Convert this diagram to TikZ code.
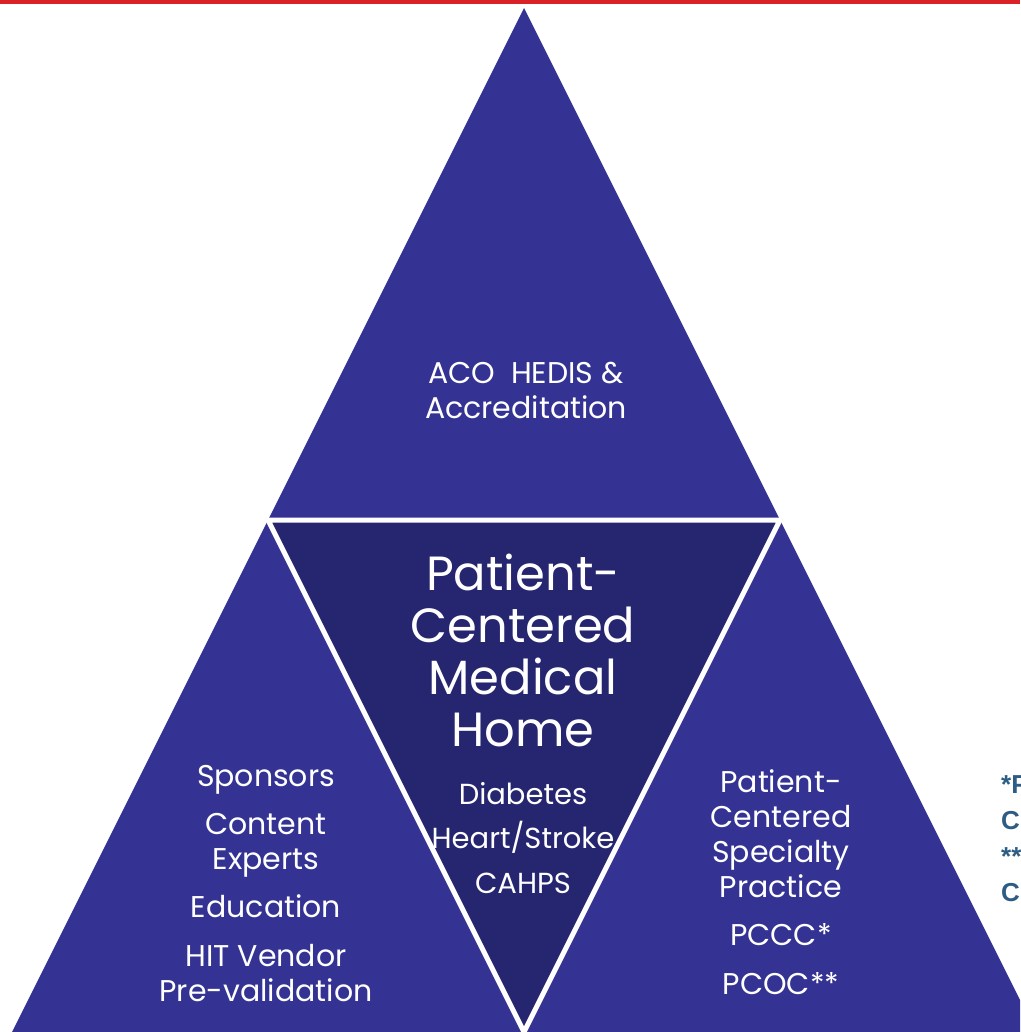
\documentclass[tikz,border=0pt]{standalone}
\usepackage{fontspec}
\setmainfont{Poppins}
\newfontfamily\notefont{Liberation Sans}
\usepackage{tikz}
\usetikzlibrary{positioning,calc}
\definecolor{pyrblue}{RGB}{52,51,148}
\definecolor{pyrdark}{RGB}{38,37,112}
\definecolor{topbar}{RGB}{218,33,40}
\definecolor{notecol}{RGB}{45,92,132}
\tikzset{
  face/.style={fill=pyrblue},
  core/.style={fill=pyrdark},
  seam/.style={draw=white,line width=5pt,line join=round},
  lbl/.style={text=white,align=center,inner sep=0pt,font=\fontsize{30}{35}\selectfont},
  bigl/.style={text=white,align=center,inner sep=0pt,font=\fontsize{48}{52}\selectfont},
  note/.style={text=notecol,align=left,anchor=north west,inner sep=0pt,
    font=\notefont\bfseries\fontsize{26}{36}\selectfont},
}
\begin{document}
\begin{tikzpicture}[x=1pt,y=-1pt]
  \useasboundingbox (0,0) rectangle (1020,1032);
  \clip (0,0) rectangle (1020,1032);
  % corners of the big triangle and its side midpoints
  \coordinate (A) at (524,8);
  \coordinate (BL) at (12,1032);
  \coordinate (BR) at (1036,1032);
  \coordinate (ML) at ($(A)!0.5!(BL)$);
  \coordinate (MR) at ($(A)!0.5!(BR)$);
  \coordinate (MB) at ($(BL)!0.5!(BR)$);
  % outer triangle, then the inverted middle one
  \fill[face] (A) -- (BL) -- (BR) -- cycle;
  \fill[core] (ML) -- (MR) -- (MB) -- cycle;
  \draw[seam] (MB) -- (ML) -- (MR) -- cycle;
  % labels
  \node[lbl] (aco) at (526,390) {ACO\ \ HEDIS \&\\Accreditation};
  \node[bigl] (pcmh) at (523,650) {Patient-\\Centered\\Medical\\Home};
  \node[lbl,font=\fontsize{29}{44.5}\selectfont] (meas) at (523,838) {Diabetes\\Heart/Stroke\\CAHPS};
  \node[lbl] (part) at (266,884) {Sponsors\\[13pt]Content\\Experts\\[13pt]Education\\[14pt]HIT Vendor\\Pre-validation};
  \node[lbl] (pcsp) at (781,882) {Patient-\\Centered\\Specialty\\Practice\\[13pt]PCCC*\\[14pt]PCOC**};
  \node[note] (key) at (1001,775) {*P\\C\\**\\C};
  % red rule along the top
  \fill[topbar] (0,0) rectangle (1020,4.5);
\end{tikzpicture}
\end{document}
